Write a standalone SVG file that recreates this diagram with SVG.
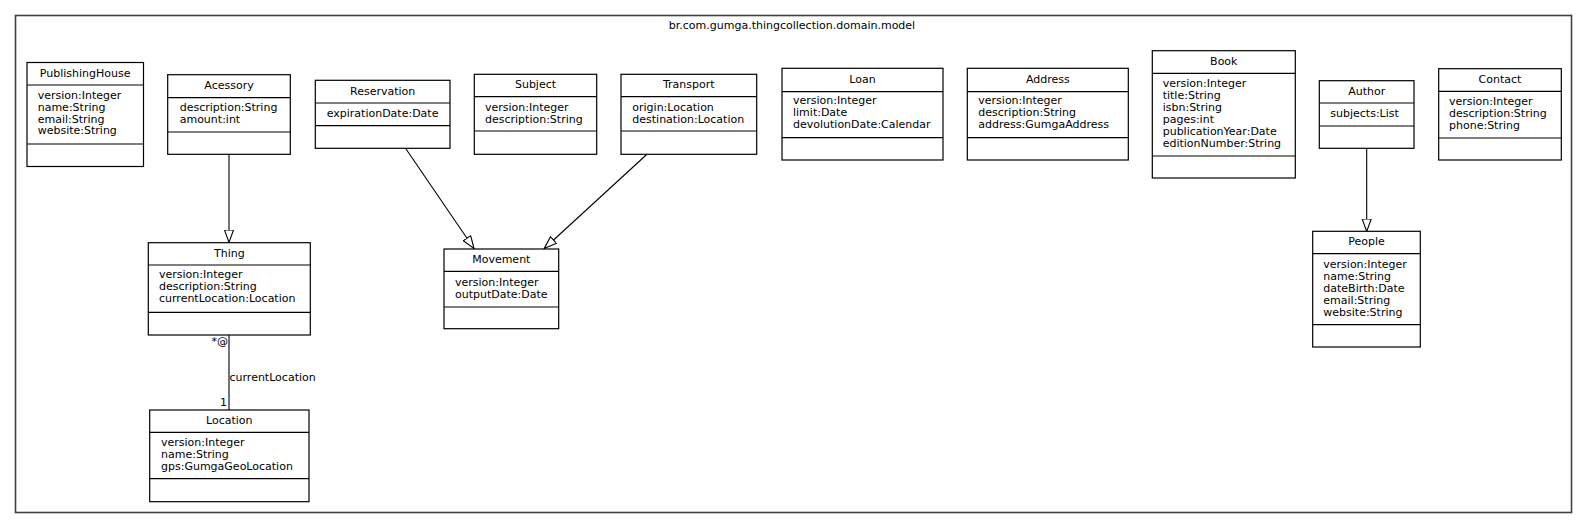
<svg xmlns="http://www.w3.org/2000/svg" width="1588" height="529" viewBox="0 0 1588 529">
<style>
text{font-family:"DejaVu Sans",sans-serif;font-size:11px;fill:#000}
.t{text-anchor:middle}
.b{fill:#fff;stroke:#000;stroke-width:1.2}
.d{stroke:#000;stroke-width:1.2}
.e{stroke:#000;stroke-width:1.1;fill:none}
</style>
<defs>
<marker id="gen" markerUnits="userSpaceOnUse" markerWidth="16" markerHeight="12" refX="13" refY="5" orient="auto">
<path d="M0.5,0.5 L13,5 L0.5,9.5 Z" fill="#fff" stroke="#000" stroke-width="1.1"/>
</marker>
</defs>
<rect x="0" y="0" width="1588" height="529" fill="#fff"/>
<g id="package">
<rect x="15.5" y="15.5" width="1556" height="497" fill="none" stroke="#404040" stroke-width="1.6"/>
<text class="t" x="792" y="29">br.com.gumga.thingcollection.domain.model</text>
</g>
<g id="connectors">
<line class="e" x1="229" y1="154.5" x2="229" y2="242.5" marker-end="url(#gen)"/>
<line class="e" x1="405.7" y1="148.5" x2="474" y2="248.5" marker-end="url(#gen)"/>
<line class="e" x1="646.7" y1="154.5" x2="544.3" y2="248.5" marker-end="url(#gen)"/>
<line class="e" x1="1366.7" y1="148.5" x2="1366.7" y2="231.5" marker-end="url(#gen)"/>
<line class="e" x1="229" y1="335" x2="229" y2="410"/>
<text x="228" y="345" text-anchor="end">*@</text>
<text x="229.5" y="380.7">currentLocation</text>
<text x="227" y="405.7" text-anchor="end">1</text>
</g>
<g id="PublishingHouse">
<rect class="b" x="27" y="62.5" width="116.5" height="104"/>
<line class="d" x1="27" y1="85" x2="143.5" y2="85"/>
<line class="d" x1="27" y1="144" x2="143.5" y2="144"/>
<text class="t" x="85.2" y="76.7">PublishingHouse</text>
<text x="37.7" y="99">version:Integer</text>
<text x="37.7" y="110.8">name:String</text>
<text x="37.7" y="122.6">email:String</text>
<text x="37.7" y="134.4">website:String</text>
</g>
<g id="Acessory">
<rect class="b" x="167.7" y="74.7" width="122.6" height="79.6"/>
<line class="d" x1="167.7" y1="97.7" x2="290.3" y2="97.7"/>
<line class="d" x1="167.7" y1="132" x2="290.3" y2="132"/>
<text class="t" x="229" y="89.3">Acessory</text>
<text x="179.7" y="111">description:String</text>
<text x="179.7" y="122.7">amount:int</text>
</g>
<g id="Reservation">
<rect class="b" x="315.3" y="80.3" width="134.7" height="68"/>
<line class="d" x1="315.3" y1="103" x2="450" y2="103"/>
<line class="d" x1="315.3" y1="125.7" x2="450" y2="125.7"/>
<text class="t" x="382.7" y="95">Reservation</text>
<text x="326.7" y="117.3">expirationDate:Date</text>
</g>
<g id="Subject">
<rect class="b" x="474.3" y="74.3" width="122.4" height="80"/>
<line class="d" x1="474.3" y1="96.7" x2="596.7" y2="96.7"/>
<line class="d" x1="474.3" y1="131" x2="596.7" y2="131"/>
<text class="t" x="535.5" y="88.3">Subject</text>
<text x="485" y="110.7">version:Integer</text>
<text x="485" y="122.7">description:String</text>
</g>
<g id="Transport">
<rect class="b" x="621" y="74.3" width="135.7" height="80"/>
<line class="d" x1="621" y1="96.7" x2="756.7" y2="96.7"/>
<line class="d" x1="621" y1="131" x2="756.7" y2="131"/>
<text class="t" x="688.8" y="88.3">Transport</text>
<text x="632.3" y="110.7">origin:Location</text>
<text x="632.3" y="122.7">destination:Location</text>
</g>
<g id="Movement">
<rect class="b" x="444" y="249" width="114.7" height="79.7"/>
<line class="d" x1="444" y1="271.3" x2="558.7" y2="271.3"/>
<line class="d" x1="444" y1="307" x2="558.7" y2="307"/>
<text class="t" x="501.3" y="262.7">Movement</text>
<text x="455" y="285.7">version:Integer</text>
<text x="455" y="297.7">outputDate:Date</text>
</g>
<g id="Loan">
<rect class="b" x="782" y="68.3" width="161" height="91.7"/>
<line class="d" x1="782" y1="91.7" x2="943" y2="91.7"/>
<line class="d" x1="782" y1="137.7" x2="943" y2="137.7"/>
<text class="t" x="862.5" y="82.7">Loan</text>
<text x="793" y="104">version:Integer</text>
<text x="793" y="116">limit:Date</text>
<text x="793" y="127.8">devolutionDate:Calendar</text>
</g>
<g id="Address">
<rect class="b" x="967.3" y="68.3" width="161" height="91.7"/>
<line class="d" x1="967.3" y1="91.7" x2="1128.3" y2="91.7"/>
<line class="d" x1="967.3" y1="137.7" x2="1128.3" y2="137.7"/>
<text class="t" x="1047.8" y="82.7">Address</text>
<text x="978.3" y="104">version:Integer</text>
<text x="978.3" y="116">description:String</text>
<text x="978.3" y="127.8">address:GumgaAddress</text>
</g>
<g id="Book">
<rect class="b" x="1152.3" y="50.7" width="143" height="127.3"/>
<line class="d" x1="1152.3" y1="73.3" x2="1295.3" y2="73.3"/>
<line class="d" x1="1152.3" y1="156" x2="1295.3" y2="156"/>
<text class="t" x="1223.8" y="65">Book</text>
<text x="1162.7" y="86.7">version:Integer</text>
<text x="1162.7" y="98.7">title:String</text>
<text x="1162.7" y="110.7">isbn:String</text>
<text x="1162.7" y="122.7">pages:int</text>
<text x="1162.7" y="134.7">publicationYear:Date</text>
<text x="1162.7" y="146.7">editionNumber:String</text>
</g>
<g id="Author">
<rect class="b" x="1319.3" y="80.7" width="94.7" height="67.6"/>
<line class="d" x1="1319.3" y1="103" x2="1414" y2="103"/>
<line class="d" x1="1319.3" y1="126" x2="1414" y2="126"/>
<text class="t" x="1366.7" y="95">Author</text>
<text x="1330.3" y="116.7">subjects:List</text>
</g>
<g id="Contact">
<rect class="b" x="1438.7" y="68.7" width="122.6" height="91.3"/>
<line class="d" x1="1438.7" y1="91.3" x2="1561.3" y2="91.3"/>
<line class="d" x1="1438.7" y1="138" x2="1561.3" y2="138"/>
<text class="t" x="1500" y="83">Contact</text>
<text x="1449" y="105">version:Integer</text>
<text x="1449" y="117">description:String</text>
<text x="1449" y="128.8">phone:String</text>
</g>
<g id="People">
<rect class="b" x="1312.7" y="231.3" width="107.6" height="115.7"/>
<line class="d" x1="1312.7" y1="253.7" x2="1420.3" y2="253.7"/>
<line class="d" x1="1312.7" y1="324.7" x2="1420.3" y2="324.7"/>
<text class="t" x="1366.5" y="245">People</text>
<text x="1323.3" y="268.3">version:Integer</text>
<text x="1323.3" y="280.3">name:String</text>
<text x="1323.3" y="292.3">dateBirth:Date</text>
<text x="1323.3" y="304.3">email:String</text>
<text x="1323.3" y="316.3">website:String</text>
</g>
<g id="Thing">
<rect class="b" x="148.3" y="242.7" width="162" height="92.3"/>
<line class="d" x1="148.3" y1="265" x2="310.3" y2="265"/>
<line class="d" x1="148.3" y1="312.3" x2="310.3" y2="312.3"/>
<text class="t" x="229.3" y="256.7">Thing</text>
<text x="159" y="278.3">version:Integer</text>
<text x="159" y="290.3">description:String</text>
<text x="159" y="302.3">currentLocation:Location</text>
</g>
<g id="Location">
<rect class="b" x="149.7" y="410" width="159.3" height="91.7"/>
<line class="d" x1="149.7" y1="432.3" x2="309" y2="432.3"/>
<line class="d" x1="149.7" y1="478.7" x2="309" y2="478.7"/>
<text class="t" x="229.3" y="424.3">Location</text>
<text x="161" y="445.7">version:Integer</text>
<text x="161" y="457.7">name:String</text>
<text x="161" y="469.7">gps:GumgaGeoLocation</text>
</g>
</svg>
